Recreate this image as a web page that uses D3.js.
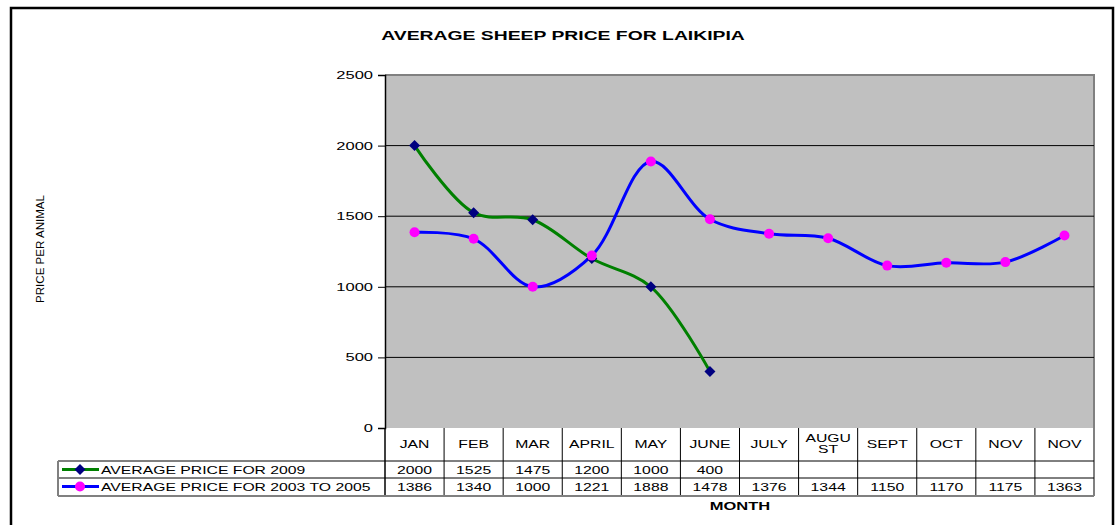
<!DOCTYPE html>
<html>
<head>
<meta charset="utf-8">
<script src="https://cdn.jsdelivr.net/npm/d3@7"></script>
<style>
  body { margin: 0; background: #fff; }
  svg text { font-family: "Liberation Sans", Arial, sans-serif; fill: #000; }
</style>
</head>
<body>
<div id="chart"></div>
<script>
// data
const months = ["JAN", "FEB", "MAR", "APRIL", "MAY", "JUNE", "JULY", "AUGUST", "SEPT", "OCT", "NOV", "NOV "];
const monthLabels = [["JAN"], ["FEB"], ["MAR"], ["APRIL"], ["MAY"], ["JUNE"], ["JULY"], ["AUGU", "ST"], ["SEPT"], ["OCT"], ["NOV"], ["NOV"]];
const price2009 = [2000, 1525, 1475, 1200, 1000, 400, null, null, null, null, null, null];
const price0305 = [1386, 1340, 1000, 1221, 1888, 1478, 1376, 1344, 1150, 1170, 1175, 1363];
const yTicks = [0, 500, 1000, 1500, 2000, 2500];

const series = [
  { name: "AVERAGE PRICE FOR 2009", values: price2009, line: "#008000", mark: "diamond", markColor: "#000080" },
  { name: "AVERAGE PRICE FOR 2003 TO 2005", values: price0305, line: "#0000ff", mark: "circle", markColor: "#ff00ff" }
];

const width = 1115, height = 525;
const m = { left: 385, right: 1094, top: 75, bottom: 428 };
const sx = 1.5; // the original picture is stretched sideways

const svg = d3.select("#chart").append("svg")
  .attr("width", width)
  .attr("height", height);

// text stretched like the original
function stext(g, tx, ty, str, size, anchor, bold) {
  return g.append("text")
    .attr("transform", `translate(${tx},${ty}) scale(${sx},1)`)
    .attr("text-anchor", anchor || "start")
    .attr("font-size", size)
    .attr("font-weight", bold ? "bold" : null)
    .text(str);
}

// outer frame
svg.append("rect")
  .attr("x", 11).attr("y", 8)
  .attr("width", 1102).attr("height", 530)
  .attr("fill", "none").attr("stroke", "#000").attr("stroke-width", 2.5);

const x = d3.scaleBand().domain(months).range([m.left, m.right]);
const y = d3.scaleLinear().domain([0, 2500]).range([m.bottom, m.top]);

// plot area
svg.append("rect")
  .attr("x", m.left).attr("y", m.top)
  .attr("width", m.right - m.left).attr("height", m.bottom - m.top)
  .attr("fill", "#c0c0c0");
svg.append("path")
  .attr("d", `M${m.left},${m.top}H${m.right}V${m.bottom}`)
  .attr("fill", "none").attr("stroke", "#808080").attr("stroke-width", 2);

// grid
svg.append("g").selectAll("line")
  .data(yTicks.filter(d => d > 0 && d < 2500))
  .join("line")
  .attr("x1", m.left).attr("x2", m.right)
  .attr("y1", d => y(d)).attr("y2", d => y(d))
  .attr("stroke", "#000").attr("stroke-width", 1);

// y axis
const yAxis = svg.append("g")
  .attr("transform", `translate(${m.left},0)`)
  .call(d3.axisLeft(y).tickValues(yTicks).tickFormat(d3.format("d")).tickSize(7).tickPadding(5));
yAxis.select(".domain").attr("stroke", "#000").attr("stroke-width", 1.5);
yAxis.selectAll(".tick line").attr("stroke", "#000");
yAxis.selectAll("text")
  .attr("x", -12 / sx)
  .attr("transform", `scale(${sx},1)`)
  .attr("font-size", 11).attr("fill", "#000")
  .style("font-family", "'Liberation Sans', Arial, sans-serif");

// title
stext(svg, 563, 40, "AVERAGE SHEEP PRICE FOR LAIKIPIA", 12.9, "middle", true);

// y label, squeezed like the original
svg.append("text")
  .attr("transform", "translate(44,249) rotate(-90)")
  .attr("text-anchor", "middle")
  .attr("font-size", 10.5)
  .attr("textLength", 108).attr("lengthAdjust", "spacingAndGlyphs")
  .text("PRICE PER ANIMAL");

// x label
stext(svg, 740, 510, "MONTH", 11, "middle", true);

// lines
const line = d3.line()
  .defined(d => d.v != null)
  .x(d => x(d.m) + x.bandwidth() / 2)
  .y(d => y(d.v))
  .curve(d3.curveCatmullRom.alpha(0.5));

series.forEach(s => {
  const pts = months.map((mo, i) => ({ m: mo, v: s.values[i] })).filter(d => d.v != null);
  svg.append("path")
    .datum(pts)
    .attr("d", line)
    .attr("fill", "none")
    .attr("stroke", s.line)
    .attr("stroke-width", 3);
});

function marker(g, s, cx, cy) {
  if (s.mark === "diamond") {
    g.append("path")
      .attr("d", `M${cx},${cy - 5.5}L${cx + 5.5},${cy}L${cx},${cy + 5.5}L${cx - 5.5},${cy}Z`)
      .attr("fill", s.markColor);
  } else {
    g.append("circle")
      .attr("cx", cx).attr("cy", cy).attr("r", 5)
      .attr("fill", s.markColor);
  }
}

// markers drawn after both lines
series.forEach(s => {
  const g = svg.append("g");
  s.values.forEach((v, i) => {
    if (v == null) return;
    marker(g, s, x(months[i]) + x.bandwidth() / 2, y(v));
  });
});

// data table
const rowTop = [m.bottom, 461, 478, 496];
const tableLeft = 58;
const tbl = svg.append("g");

// month header cells
months.forEach((mo, i) => {
  const cx = x(mo) + x.bandwidth() / 2;
  const lines = monthLabels[i];
  lines.forEach((t, j) => {
    stext(tbl, cx, lines.length === 1 ? 448 : 442 + j * 11, t, 10.5, "middle");
  });
});

// values
series.forEach((s, r) => {
  const ty = rowTop[r + 1] + 13;
  stext(tbl, 101, ty, s.name, 10.5, "start");
  s.values.forEach((v, i) => {
    if (v == null) return;
    stext(tbl, x(months[i]) + x.bandwidth() / 2, ty, v, 10.5, "middle");
  });
  // legend key
  const ky = rowTop[r + 1] + 8.5;
  tbl.append("line")
    .attr("x1", 62).attr("x2", 99)
    .attr("y1", ky).attr("y2", ky)
    .attr("stroke", s.line).attr("stroke-width", 3);
  marker(tbl, s, 80, ky);
});

// table grid
months.forEach((mo, i) => {
  tbl.append("line")
    .attr("x1", x(mo)).attr("x2", x(mo))
    .attr("y1", m.bottom).attr("y2", rowTop[3])
    .attr("stroke", "#000").attr("stroke-width", i === 0 ? 1.5 : 1);
});
tbl.append("line")
  .attr("x1", m.right).attr("x2", m.right)
  .attr("y1", m.bottom).attr("y2", rowTop[3])
  .attr("stroke", "#808080").attr("stroke-width", 2);
[rowTop[1], rowTop[2]].forEach(ry => {
  tbl.append("line")
    .attr("x1", tableLeft).attr("x2", m.right)
    .attr("y1", ry).attr("y2", ry)
    .attr("stroke", "#000").attr("stroke-width", 1);
});
tbl.append("line")
  .attr("x1", tableLeft).attr("x2", m.right)
  .attr("y1", rowTop[3]).attr("y2", rowTop[3])
  .attr("stroke", "#808080").attr("stroke-width", 2);
tbl.append("line")
  .attr("x1", tableLeft).attr("x2", tableLeft)
  .attr("y1", rowTop[1]).attr("y2", rowTop[3])
  .attr("stroke", "#808080").attr("stroke-width", 2);
</script>
</body>
</html>
